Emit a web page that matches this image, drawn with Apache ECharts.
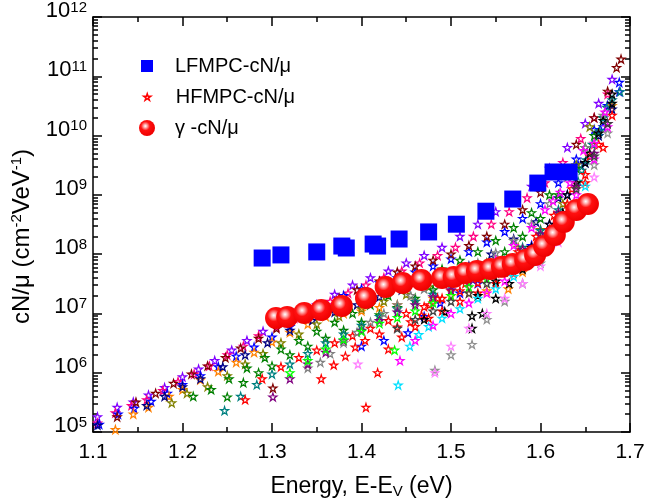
<!DOCTYPE html>
<html>
<head>
<meta charset="utf-8">
<script src="https://cdn.jsdelivr.net/npm/echarts@6/dist/echarts.min.js"></script>
<style>
html,body{margin:0;padding:0;background:#fff}
#main{width:665px;height:500px}
</style>
</head>
<body>
<div id="main"></div>
<script>
// LFMPC-cN/mu, blue squares [energy, value]
var lfmpc = [[1.289,8.6e7],[1.31,9.7e7],[1.35,1.09e8],[1.378,1.37e8],[1.383,1.27e8],[1.413,1.48e8],[1.418,1.37e8],
  [1.442,1.8e8],[1.475,2.37e8],[1.506,3.2e8],[1.539,5.3e8],[1.569,8.5e8],[1.597,1.58e9],[1.614,2.43e9],[1.632,2.43e9]];

// gamma-cN/mu, red spheres
var gamma = [[1.3045,8.4e6],[1.317,8.7e6],[1.336,1.02e7],[1.355,1.14e7],[1.378,1.34e7],[1.405,1.82e7],[1.427,2.79e7],
  [1.446,3.27e7],[1.467,3.67e7],[1.49,3.96e7],[1.503,4.12e7],[1.516,4.81e7],[1.529,5.2e7],[1.544,5.6e7],[1.557,6.1e7],
  [1.569,6.8e7],[1.583,8.0e7],[1.594,9.7e7],[1.604,1.37e8],[1.616,2.1e8],[1.626,3.5e8],[1.64,5.56e8],[1.653,7.0e8]];

// HFMPC-cN/mu, stars, one array per colour
var starViolet = [[1.105,1.8e5],[1.127,2.6e5],[1.145,3.2e5],[1.162,4.2e5],[1.18,5.6e5],[1.2,8.5e5],[1.218,1.15e6],[1.236,1.6e6],[1.255,2.4e6],[1.272,3.5e6],[1.29,5.0e6],[1.31,7.1e6],[1.33,1.0e7],[1.35,1.4e7],[1.37,2.1e7],[1.39,3.0e7],[1.41,4.0e7],[1.43,5.2e7],[1.45,7.1e7],[1.47,9.5e7],[1.49,1.3e8],[1.51,2.0e8],[1.53,3.2e8],[1.55,5.2e8],[1.57,8.9e8],[1.59,1.4e9],[1.61,2.8e9],[1.63,6.3e9],[1.65,1.6e10],[1.665,3.5e10],[1.68,8.9e10]];
var starPink = [[1.105,1.41e5],[1.125,2.1e5],[1.143,2.8e5],[1.16,3.5e5],[1.178,5.0e5],[1.195,7.1e5],[1.213,9.5e5],[1.23,1.3e6],[1.25,2.0e6],[1.268,2.8e6],[1.285,4.2e6],[1.305,6.0e6],[1.325,8.3e6],[1.345,1.1e7],[1.365,1.6e7],[1.385,2.2e7],[1.405,3.0e7],[1.425,4.0e7],[1.445,5.2e7],[1.465,7.1e7],[1.485,9.5e7],[1.505,1.3e8],[1.525,2.0e8],[1.545,3.2e8],[1.565,5.2e8],[1.585,8.9e8],[1.605,1.6e9],[1.625,3.5e9],[1.645,8.9e9],[1.66,2.0e10],[1.675,5.0e10]];
var starBlue = [[1.107,1.35e5],[1.128,2.0e5],[1.146,2.5e5],[1.165,3.3e5],[1.183,4.5e5],[1.2,6.3e5],[1.22,8.9e5],[1.24,1.26e6],[1.26,1.9e6],[1.28,2.7e6],[1.3,4.0e6],[1.32,6.0e6],[1.34,8.3e6],[1.36,1.26e7],[1.38,2.0e7],[1.4,2.6e7],[1.42,3.3e7],[1.44,4.0e7],[1.46,5.0e7],[1.48,6.3e7],[1.5,8.3e7],[1.52,1.1e8],[1.54,1.6e8],[1.56,2.4e8],[1.58,4.0e8],[1.6,7.1e8],[1.62,1.6e9],[1.64,4.0e9],[1.66,1.26e10],[1.675,3.2e10],[1.688,7.9e10]];
var starBlue2 = [[1.40,2.8e6],[1.425,3.5e6],[1.452,4.7e6],[1.47,8.9e6],[1.488,1.5e7],[1.51,2.2e7],[1.53,3.2e7],[1.55,5.0e7],[1.57,7.9e7],[1.59,1.4e8],[1.61,3.2e8],[1.63,1.0e9],[1.65,3.5e9],[1.67,1.4e10],[1.688,5.5e10]];
var starDarkRed = [[1.127,1.8e5],[1.148,3.2e5],[1.17,4.5e5],[1.19,6.6e5],[1.21,9.5e5],[1.228,1.3e6],[1.248,1.8e6],[1.265,2.6e6],[1.285,3.8e6],[1.301,5.5e5],[1.305,5.6e6],[1.33,8.9e6],[1.35,1.1e7],[1.375,1.8e7],[1.395,2.5e7],[1.42,3.5e7],[1.44,5.0e7],[1.46,6.3e7],[1.48,7.9e7],[1.5,1.0e8],[1.52,1.4e8],[1.54,2.0e8],[1.56,3.2e8],[1.58,5.6e8],[1.6,1.1e9],[1.62,2.5e9],[1.64,7.1e9],[1.66,2.0e10],[1.675,5.6e10],[1.685,1.4e11],[1.69,1.95e11]];
var starOrange = [[1.125,1.1e5],[1.145,2.0e5],[1.162,2.6e5],[1.185,4.0e5],[1.2,5.2e5],[1.22,7.6e5],[1.24,1.05e6],[1.26,1.5e6],[1.28,2.2e6],[1.3,3.3e6],[1.32,4.8e6],[1.34,6.6e6],[1.36,8.9e6],[1.38,1.0e7],[1.4,1.1e7],[1.42,1.26e7],[1.44,1.4e7],[1.46,1.6e7],[1.48,1.8e7],[1.5,2.0e7],[1.52,2.2e7],[1.54,2.4e7],[1.564,2.6e7],[1.58,5.0e7],[1.6,1.26e8],[1.62,4.0e8],[1.64,1.6e9],[1.66,7.1e9],[1.68,3.2e10]];
var starNavy = [[1.105,1.3e5],[1.16,2.8e5],[1.18,4.0e5],[1.2,5.8e5],[1.22,7.9e5],[1.245,1.26e6],[1.27,2.0e6],[1.295,3.2e6],[1.32,5.2e6],[1.345,7.6e6],[1.37,1.05e7],[1.395,1.4e7],[1.42,1.9e7],[1.445,2.5e7],[1.47,3.3e7],[1.495,4.5e7],[1.52,6.3e7],[1.545,1.0e8],[1.57,1.8e8],[1.595,3.5e8],[1.62,8.9e8],[1.645,3.2e9],[1.665,1.0e10],[1.68,2.8e10]];
var starOlive = [[1.188,3.1e5],[1.205,4.5e5],[1.228,5.8e5],[1.25,8.9e5],[1.27,1.4e6],[1.29,2.1e6],[1.31,3.2e6],[1.33,4.5e6],[1.35,6.6e6],[1.375,8.9e6],[1.4,1.2e7],[1.425,1.6e7],[1.45,2.1e7],[1.475,2.8e7],[1.5,3.8e7],[1.525,5.2e7],[1.55,7.9e7],[1.575,1.3e8],[1.6,2.6e8],[1.625,7.1e8],[1.64,3.2e9],[1.655,1.4e10]];
var starGreen = [[1.212,4.0e5],[1.232,5.2e5],[1.252,7.9e5],[1.272,1.2e6],[1.292,1.8e6],[1.31,2.5e6],[1.33,3.5e6],[1.35,5.0e6],[1.37,7.1e6],[1.39,1.0e7],[1.41,1.4e7],[1.43,2.0e7],[1.45,2.8e7],[1.47,4.0e7],[1.49,5.6e7],[1.51,7.9e7],[1.53,1.1e8],[1.55,1.7e8],[1.57,2.8e8],[1.59,5.0e8],[1.61,1.0e9],[1.63,2.2e9],[1.65,6.3e9],[1.67,2.0e10]];
var starGreen2 = [[1.25,3.9e5],[1.268,6.8e5],[1.285,1.0e6],[1.3,1.3e6],[1.32,2.0e6],[1.34,2.8e6],[1.36,3.8e6],[1.38,5.2e6],[1.4,7.1e6],[1.42,9.5e6],[1.44,1.26e7],[1.46,1.8e7],[1.48,2.5e7],[1.5,3.5e7],[1.52,5.0e7],[1.54,7.1e7],[1.56,1.1e8],[1.58,2.0e8],[1.6,4.0e8],[1.62,1.0e9],[1.64,2.8e9],[1.66,1.0e10]];
var starTeal = [[1.247,2.3e5],[1.265,4.0e5],[1.283,6.3e5],[1.3,9.5e5],[1.32,1.4e6],[1.34,2.1e6],[1.36,3.2e6],[1.38,4.5e6],[1.4,6.3e6],[1.42,8.9e6],[1.44,1.2e7],[1.46,1.6e7],[1.48,2.1e7],[1.5,2.8e7],[1.52,3.8e7],[1.54,5.2e7],[1.56,7.9e7],[1.58,1.3e8],[1.6,2.5e8],[1.62,5.6e8],[1.642,1.7e9],[1.646,2.6e9],[1.651,3.9e9],[1.658,7.1e9],[1.666,1.2e10],[1.67,2.0e10],[1.674,3.0e10],[1.68,4.0e10],[1.689,5.5e10]];
var starRed = [[1.27,3.5e5],[1.289,7.9e5],[1.31,1.26e6],[1.33,1.8e6],[1.35,2.4e6],[1.37,3.2e6],[1.39,4.2e6],[1.41,5.6e6],[1.43,7.6e6],[1.45,1.0e7],[1.47,1.3e7],[1.49,1.8e7],[1.51,2.4e7],[1.53,3.3e7],[1.55,4.8e7],[1.57,7.6e7],[1.59,1.26e8],[1.61,2.6e8],[1.63,7.1e8],[1.65,2.2e9],[1.665,7.1e9],[1.68,2.2e10]];
var starRed2 = [[1.405,2.6e5],[1.418,1.0e6],[1.43,2.5e6],[1.445,4.0e6],[1.46,6.0e6],[1.475,8.3e6],[1.49,1.1e7],[1.51,1.6e7],[1.53,2.2e7],[1.55,3.2e7],[1.57,4.8e7],[1.59,8.3e7],[1.61,1.8e8],[1.63,5.0e8],[1.65,1.6e9],[1.67,6.3e9]];
var starRed3 = [[1.355,7.9e5],[1.369,1.35e6],[1.382,1.9e6],[1.393,2.7e6],[1.404,3.5e6],[1.42,4.5e6],[1.44,5.9e6],[1.455,7.2e6],[1.467,9.3e6],[1.476,1.4e7],[1.485,1.8e7],[1.5,2.4e7],[1.516,3.2e7],[1.535,4.5e7],[1.555,6.6e7],[1.575,1.1e8],[1.595,2.0e8],[1.615,4.5e8],[1.635,1.26e9],[1.655,4.5e9]];
var starGray = [[1.34,1.2e6],[1.354,1.5e6],[1.365,2.1e6],[1.38,3.2e6],[1.395,4.8e6],[1.41,7.1e6],[1.425,1.0e7],[1.44,1.4e7],[1.455,2.0e7],[1.47,2.6e7],[1.49,3.5e7],[1.51,5.0e7],[1.53,7.1e7],[1.55,1.05e8],[1.57,1.7e8],[1.59,3.2e8],[1.61,7.1e8],[1.63,2.0e9],[1.65,6.3e9],[1.67,2.2e10]];
var starGray2 = [[1.482,1.1e6],[1.5,2.0e6],[1.5235,3.0e6],[1.54,7.9e6],[1.56,1.6e7],[1.58,3.2e7],[1.6,7.1e7],[1.62,2.0e8],[1.64,7.1e8],[1.66,3.2e9],[1.675,1.1e10]];
var starBlack = [[1.5235,5.6e6],[1.535,1.0e7],[1.55,1.8e7],[1.565,3.2e7],[1.58,5.6e7],[1.595,1.0e8],[1.61,2.0e8],[1.625,5.0e8],[1.64,1.6e9],[1.655,5.0e9],[1.67,1.8e10],[1.68,3.5e10]];
var starBlack2 = [[1.47,7.9e6],[1.493,1.07e7],[1.5235,9.1e6],[1.53,2.0e7],[1.55,3.5e7],[1.57,6.6e7],[1.59,1.3e8],[1.61,3.2e8],[1.63,1.0e9],[1.65,3.5e9],[1.665,1.1e10],[1.68,5.0e10]];
var starCyan = [[1.441,6.2e5],[1.454,2.8e6],[1.464,4.4e6],[1.475,6.0e6],[1.49,8.3e6],[1.51,1.2e7],[1.53,1.8e7],[1.55,2.6e7],[1.57,4.2e7],[1.59,7.6e7],[1.61,1.6e8],[1.63,4.5e8],[1.65,1.4e9]];
var starMagenta = [[1.443,1.6e6],[1.46,3.5e6],[1.48,6.3e6],[1.5,1.0e7],[1.52,1.5e7],[1.54,2.2e7],[1.56,3.5e7],[1.58,6.3e7],[1.6,1.26e8],[1.62,3.2e8],[1.64,1.0e9],[1.66,4.0e9],[1.675,1.4e10]];
var starMagenta2 = [[1.55,7.9e7],[1.57,1.4e8],[1.59,2.8e8],[1.605,5.6e8],[1.614,7.9e8],[1.622,1.1e9],[1.633,1.6e9],[1.648,5.6e9],[1.66,7.4e9],[1.672,2.5e10]];
var starLightPink = [[1.396,1.4e6],[1.482,1.0e6],[1.5,2.8e6],[1.52,5.6e6],[1.54,1.0e7],[1.56,1.8e7],[1.58,3.2e7],[1.6,6.3e7],[1.62,1.6e8],[1.64,5.0e8],[1.66,2.0e9]];
var starPurple = [[1.301,3.9e5],[1.32,7.9e5],[1.34,1.4e6],[1.36,2.2e6],[1.38,3.5e6],[1.4,5.2e6],[1.42,7.6e6],[1.44,1.05e7],[1.46,1.4e7],[1.48,1.9e7],[1.5,2.5e7],[1.52,3.3e7],[1.54,4.8e7],[1.56,7.2e7],[1.58,1.2e8],[1.6,2.2e8],[1.62,5.0e8],[1.64,1.4e9],[1.66,5.0e9],[1.675,1.6e10]];
var starLime = [[1.32,1.0e6],[1.34,1.6e6],[1.36,2.5e6],[1.38,3.6e6],[1.4,5.0e6],[1.42,6.8e6],[1.437,2.4e6],[1.44,8.5e6],[1.46,1.1e7],[1.48,1.5e7],[1.5,2.0e7],[1.52,2.8e7],[1.54,3.8e7],[1.56,5.2e7],[1.58,8.0e7],[1.6,1.3e8],[1.62,2.5e8]];
var starDarkGray = [[1.44,5.6e6],[1.46,7.9e6],[1.48,1.1e7],[1.5,1.6e7],[1.52,2.2e7],[1.54,3.2e7],[1.56,5.0e7],[1.58,8.9e7],[1.6,1.8e8],[1.62,4.0e8],[1.64,1.26e9],[1.66,4.5e9],[1.675,1.6e10]];

var starSets = [
  [starViolet,'#8000ff'],[starPink,'#ff0080'],[starBlue,'#0000ff'],[starBlue2,'#0000ff'],
  [starDarkRed,'#800000'],[starOrange,'#ff8000'],[starNavy,'#000080'],[starOlive,'#808000'],
  [starGreen,'#008000'],[starGreen2,'#008000'],[starTeal,'#008080'],[starRed,'#ff0000'],
  [starRed2,'#ff0000'],[starRed3,'#ff0000'],[starGray,'#808080'],[starGray2,'#909090'],
  [starBlack,'#000000'],[starBlack2,'#000000'],[starCyan,'#00e0ff'],[starMagenta,'#ff00ff'],
  [starMagenta2,'#ff00ff'],[starLightPink,'#ff80ff'],[starPurple,'#800080'],[starLime,'#00ff00'],
  [starDarkGray,'#404040']
];

var xTicks = ['1.1','1.2','1.3','1.4','1.5','1.6','1.7'];
var yDecades = [1e5,1e6,1e7,1e8,1e9,1e10,1e11,1e12];

// minor log ticks, in exponent units for the helper axis
var yMinorExp = [];
for (var k = 5; k < 12; k++) {
  for (var m = 2; m <= 9; m++) yMinorExp.push(k + Math.log(m) / Math.LN10);
}

var starData = [];
starSets.forEach(function (s) {
  s[0].forEach(function (p) {
    starData.push({ value: p, itemStyle: { borderColor: s[1] } });
  });
});

var FONT = 'Liberation Sans, Arial, sans-serif';
var STAR = 'path://M50,0 L61.2,34.5 L97.6,34.5 L68.2,55.9 L79.4,90.5 L50,69.1 L20.6,90.5 L31.8,55.9 L2.4,34.5 L38.8,34.5 Z';
var sphereColor = {
  type: 'radial', x: 0.4, y: 0.38, r: 0.62,
  colorStops: [
    { offset: 0, color: '#ffffff' },
    { offset: 0.16, color: '#ffb4b4' },
    { offset: 0.45, color: '#ff1010' },
    { offset: 1, color: '#ee0000' }
  ]
};

var axisLine = { show: true, lineStyle: { color: '#000', width: 1.5 } };
var tickLine = { color: '#000', width: 1.5 };

var chart = echarts.init(document.getElementById('main'));
chart.setOption({
  animation: false,
  backgroundColor: '#fff',
  grid: { left: 93, right: 35, top: 17, bottom: 68, outerBoundsMode: 'none' },
  legend: [
    { data: ['LFMPC-cN/μ'], left: 141, top: 56, padding: 0, itemWidth: 12, itemHeight: 12, selectedMode: false,
      textStyle: { fontFamily: FONT, fontSize: 20, color: '#000', lineHeight: 20, padding: [0, 0, 0, 17] } },
    { data: ['HFMPC-cN/μ'], left: 143, top: 87, padding: 0, itemWidth: 7, itemHeight: 7, selectedMode: false,
      itemStyle: { color: '#ffffff', borderColor: '#ff0000', borderWidth: 1.5 },
      textStyle: { fontFamily: FONT, fontSize: 20, color: '#000', lineHeight: 20, padding: [0, 0, 0, 20] } },
    { data: ['γ -cN/μ'], left: 139, top: 118, padding: 0, itemWidth: 16, itemHeight: 16, selectedMode: false,
      textStyle: { fontFamily: FONT, fontSize: 20, color: '#000', lineHeight: 20, padding: [0, 0, 0, 15] } }
  ],
  xAxis: [
    {
      type: 'value', min: 1.1, max: 1.7, interval: 0.1, position: 'bottom',
      axisLine: axisLine,
      axisTick: { inside: true, length: 9, lineStyle: tickLine },
      minorTick: { show: true, splitNumber: 2, length: 5, lineStyle: tickLine },
      splitLine: { show: false },
      axisLabel: {
        margin: 10, fontFamily: FONT, fontSize: 21, color: '#000',
        formatter: function (v) { return xTicks[Math.round((v - 1.1) * 10)]; }
      },
      name: 'Energy, E-E{sub|V} (eV)', nameLocation: 'middle', nameGap: 43,
      nameTextStyle: { fontFamily: FONT, fontSize: 23, color: '#000', lineHeight: 24,
        rich: { sub: { fontFamily: FONT, fontSize: 15, color: '#000', lineHeight: 13, verticalAlign: 'bottom' } } }
    },
    {
      type: 'value', min: 1.1, max: 1.7, interval: 0.1, position: 'top',
      axisLine: axisLine,
      axisTick: { inside: true, length: 9, lineStyle: tickLine },
      minorTick: { show: true, splitNumber: 2, length: 5, lineStyle: tickLine },
      splitLine: { show: false }, axisLabel: { show: false }
    }
  ],
  yAxis: [
    {
      type: 'log', logBase: 10, min: 1e5, max: 1e12, splitNumber: 7, position: 'left',
      axisLine: axisLine,
      axisTick: { inside: true, length: 9, lineStyle: tickLine },
      splitLine: { show: false },
      axisLabel: {
        margin: 6, fontFamily: FONT, fontSize: 22, color: '#000', lineHeight: 22, padding: [0, 0, 12, 0],
        formatter: function (v) {
          var e = Math.round(Math.log(v) / Math.LN10);
          return yDecades.indexOf(Math.pow(10, e)) >= 0 ? '10{s|' + e + '}' : '';
        },
        rich: { s: { fontFamily: FONT, fontSize: 15, color: '#000', lineHeight: 12, verticalAlign: 'top' } }
      },
      name: 'cN/μ (cm{sup|-2}VeV{sup|-1})', nameLocation: 'middle', nameGap: 43, nameRotate: 90,
      nameTextStyle: { fontFamily: FONT, fontSize: 24, color: '#000', lineHeight: 26, padding: [0, 24, 0, 0],
        rich: { sup: { fontFamily: FONT, fontSize: 15, color: '#000', lineHeight: 12, verticalAlign: 'top' } } }
    },
    {
      type: 'value', min: 5, max: 12, position: 'left',
      axisLine: { show: false }, axisLabel: { show: false }, splitLine: { show: false },
      axisTick: { inside: true, length: 5, lineStyle: tickLine, customValues: yMinorExp }
    },
    {
      type: 'log', logBase: 10, min: 1e5, max: 1e12, splitNumber: 7, position: 'right',
      axisLine: axisLine,
      axisTick: { inside: true, length: 9, lineStyle: tickLine },
      splitLine: { show: false }, axisLabel: { show: false }
    },
    {
      type: 'value', min: 5, max: 12, position: 'right',
      axisLine: { show: false }, axisLabel: { show: false }, splitLine: { show: false },
      axisTick: { inside: true, length: 5, lineStyle: tickLine, customValues: yMinorExp }
    }
  ],
  series: [
    {
      name: 'HFMPC-cN/μ', type: 'scatter', symbol: STAR, symbolSize: 8,
      itemStyle: { color: 'rgba(255,255,255,0)', borderColor: '#ff0000', borderWidth: 1.2, opacity: 1 },
      data: starData, z: 2
    },
    {
      name: 'LFMPC-cN/μ', type: 'scatter', symbol: 'rect', symbolSize: 17,
      itemStyle: { color: '#0000ff', opacity: 1 }, data: lfmpc, z: 3
    },
    {
      name: 'γ -cN/μ', type: 'scatter', symbol: 'circle', symbolSize: 22,
      itemStyle: { color: sphereColor, opacity: 1 }, data: gamma, z: 4
    }
  ]
});
</script>
</body>
</html>
